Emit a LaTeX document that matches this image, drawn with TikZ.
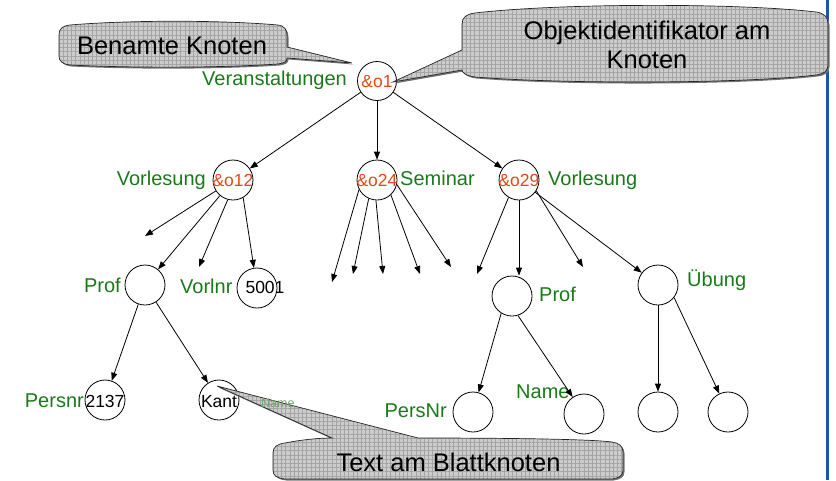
\documentclass[tikz,border=0pt]{standalone}
\usepackage{fontspec}
\setmainfont{Liberation Sans}
\usetikzlibrary{arrows.meta,patterns.meta}
\definecolor{lblgreen}{RGB}{24,122,24}
\definecolor{idred}{RGB}{224,72,24}
\definecolor{paleg}{RGB}{110,165,110}
\definecolor{edgeblue}{RGB}{30,84,170}
\definecolor{callfill}{RGB}{204,204,204}
\definecolor{callgrid}{RGB}{165,165,165}
\begin{document}
\begin{tikzpicture}[x=1pt,y=-1pt,
  knoten/.style={circle,draw,line width=0.8pt,minimum size=40pt,inner sep=0pt},
  arr/.style={line width=0.8pt,-{Triangle[length=8pt,width=6pt]}},
  lbl/.style={text=lblgreen,font=\fontsize{20}{24}\selectfont,inner sep=0pt},
  oid/.style={text=idred,font=\fontsize{17.5}{21}\selectfont,inner sep=0pt,anchor=base},
  val/.style={text=black,font=\fontsize{17.5}{21}\selectfont,inner sep=0pt,anchor=base},
  callout/.style={fill=callfill,
     preaction={fill=black!55,transform canvas={xshift=1.5pt,yshift=-1.5pt}},
     postaction={pattern={Lines[angle=0,distance=4.2pt,line width=0.35pt]},pattern color=callgrid},
     postaction={pattern={Lines[angle=90,distance=4.2pt,line width=0.35pt]},pattern color=callgrid},
     postaction={draw=black!85,line width=0.7pt}},
  ctext/.style={font=\fontsize{25.5}{30}\selectfont,inner sep=0pt,anchor=base}]
\useasboundingbox (0,0) rectangle (836,480);

% tree nodes
\node[knoten,minimum size=39pt] (o1) at (377,81) {};
\node[knoten] (o12) at (233,180) {};
\node[knoten] (o24) at (377,180) {};
\node[knoten] (o29) at (519,180) {};
\node[knoten] (pl) at (145,285) {};
\node[knoten] (v5001) at (257,288) {};
\node[knoten] (c2137) at (105,400) {};
\node[knoten] (cKant) at (219,400) {};
\node[knoten] (pr) at (512,296) {};
\node[knoten] (ub) at (658,285) {};
\node[knoten] (cPN) at (473,412) {};
\node[knoten] (cNm) at (584,414) {};
\node[knoten] (uc1) at (658,412) {};
\node[knoten] (uc2) at (728,412) {};

% node texts
\node[oid] (t1) at (377,87) {\&o1};
\node[oid] (t12) at (233,186) {\&o12};
\node[oid] (t24) at (377,186) {\&o24};
\node[oid] (t29) at (519,186) {\&o29};
\node[val] (t5001) at (265,293) {5001};
\node[val] (t2137) at (105,407) {2137};
\node[val] (tKant) at (219,407) {Kant};

% labels
\node[lbl,anchor=base east] (lVer) at (347,85) {Veranstaltungen};
\node[lbl,anchor=base east] (lV1) at (206,185) {Vorlesung};
\node[lbl,anchor=base west] (lSem) at (400,185) {Seminar};
\node[lbl,anchor=base west] (lV2) at (548,185) {Vorlesung};
\node[lbl,anchor=base east] (lProf1) at (121,292) {Prof};
\node[lbl,anchor=base west] (lVnr) at (180,293) {Vorlnr};
\node[lbl,anchor=base east] (lPnr) at (84,407) {Persnr};
\node[lbl,anchor=base west] (lProf2) at (539,301) {Prof};
\node[lbl,anchor=base west] (lUeb) at (687,286) {Übung};
\node[lbl,anchor=base east] (lPN) at (447,417) {PersNr};
\node[lbl,anchor=base west] (lName) at (516,398) {Name};

% dangling ends
\coordinate (d1) at (145,236);
\coordinate (d2) at (199,267);
\coordinate (s1) at (332,282);
\coordinate (s2) at (353,274);
\coordinate (s3) at (383,274);
\coordinate (s4) at (420,274);
\coordinate (s5) at (451,267);
\coordinate (d3) at (477,274);
\coordinate (d4) at (583,267);

% edges
\draw[arr] (o1) -- (o12);
\draw[arr] (o1) -- (o24);
\draw[arr] (o1) -- (o29);
\draw[arr] (o12) -- (d1);
\draw[arr] (o12) -- (pl);
\draw[arr] (o12.255) -- (d2);
\draw[arr] (o12.300) -- (v5001);
\draw[arr] (o24.208) -- (s1);
\draw[arr] (o24.246) -- (s2);
\draw[arr] (o24.267) -- (s3);
\draw[arr] (o24.313) -- (s4);
\draw[arr] (o24.347) -- (s5);
\draw[arr] (o29.239) -- (d3);
\draw[arr] (o29.south) -- (o29.south |- pr.north);
\draw[arr] (o29.328) -- (d4);
\draw[arr] (o29) -- (ub);
\draw[arr] (pl) -- (c2137);
\draw[arr] (pl) -- (cKant);
\draw[arr] (pr.238) -- (cPN);
\draw[arr] (pr.287) -- (cNm);
\draw[arr] (ub) -- (uc1);
\draw[arr] (ub.322) -- (uc2);

% right blue rule
\draw[edgeblue,line width=2.5pt] (827.5,0) -- (827.5,480);

% callouts
\path[callout] (70,25) .. controls (130,20) and (220,20) .. (278,25)
  .. controls (285,26) and (287,30) .. (287,36) -- (287,47) -- (352,63) -- (287,58)
  .. controls (287,62) and (284,63) .. (278,64)
  .. controls (220,68) and (130,68) .. (70,65)
  .. controls (62,64) and (59,61) .. (59,56) -- (59,35)
  .. controls (59,29) and (62,26) .. (70,25) -- cycle;
\node[ctext] (cbA) at (172,54) {Benamte Knoten};

\path[callout] (475,13) .. controls (560,3) and (740,3) .. (816,12)
  .. controls (824,13) and (828,17) .. (828,24) -- (828,65)
  .. controls (828,71) and (824,74) .. (816,75)
  .. controls (740,84) and (560,84) .. (475,77)
  .. controls (467,76) and (462,73) .. (462,70) -- (393,82) -- (462,50) -- (462,24)
  .. controls (462,17) and (467,14) .. (475,13) -- cycle;
\node[ctext] (cbB1) at (647,39) {Objektidentifikator am};
\node[ctext] (cbB2) at (647,68) {Knoten};

\path[callout] (285,443) .. controls (300,440) and (318,438) .. (332,438) -- (217,386) -- (418,438)
  .. controls (500,438) and (590,439) .. (612,442)
  .. controls (619,443) and (623,446) .. (623,452) -- (623,470)
  .. controls (623,476) and (619,478) .. (612,479) -- (285,479)
  .. controls (277,478) and (273,476) .. (273,470) -- (273,453)
  .. controls (273,447) and (277,444) .. (285,443) -- cycle;
\node[ctext] (cbC) at (448.5,471) {Text am Blattknoten};

\node[text=paleg,font=\fontsize{12.5}{15}\selectfont,anchor=base west,inner sep=0pt] (sName) at (261,407) {Name};
\end{tikzpicture}
\end{document}
